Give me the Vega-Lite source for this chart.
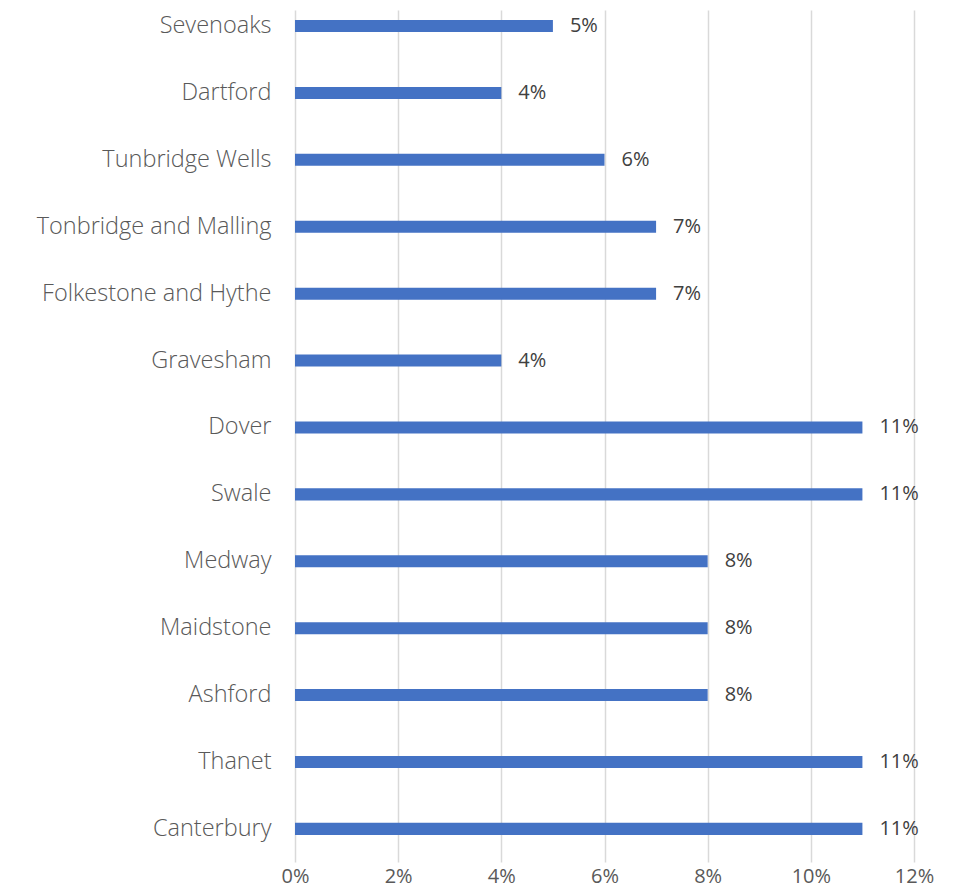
{
  "$schema": "https://vega.github.io/schema/vega-lite/v6.json",
  "autosize": {"type": "none"},
  "padding": {"left": 295, "top": 10, "right": 43, "bottom": 26},
  "width": 619,
  "height": 852,
  "background": "white",
  "config": {"view": {"stroke": null}},
  "data": {
    "values": [
      {"district": "Sevenoaks", "share": 0.05},
      {"district": "Dartford", "share": 0.04},
      {"district": "Tunbridge Wells", "share": 0.06},
      {"district": "Tonbridge and Malling", "share": 0.07},
      {"district": "Folkestone and Hythe", "share": 0.07},
      {"district": "Gravesham", "share": 0.04},
      {"district": "Dover", "share": 0.11},
      {"district": "Swale", "share": 0.11},
      {"district": "Medway", "share": 0.08},
      {"district": "Maidstone", "share": 0.08},
      {"district": "Ashford", "share": 0.08},
      {"district": "Thanet", "share": 0.11},
      {"district": "Canterbury", "share": 0.11}
    ]
  },
  "encoding": {
    "y": {
      "field": "district",
      "type": "nominal",
      "sort": null,
      "scale": {"paddingInner": 0.82, "paddingOuter": 0.2775, "align": 0.27},
      "axis": {
        "title": null,
        "ticks": false,
        "domain": false,
        "labelFont": "Open Sans",
        "labelFontWeight": 300,
        "labelFontSize": 23.5,
        "labelColor": "#595959",
        "labelPadding": 24,
        "labelLimit": 400
      }
    },
    "x": {
      "field": "share",
      "type": "quantitative",
      "scale": {"domain": [0, 0.12]},
      "axis": {
        "title": null,
        "values": [0, 0.02, 0.04, 0.06, 0.08, 0.1, 0.12],
        "format": ".0%",
        "ticks": false,
        "domain": false,
        "grid": true,
        "gridColor": "#D9D9D9",
        "gridWidth": 1.5,
        "labelFont": "Open Sans",
        "labelFontSize": 20,
        "labelColor": "#595959",
        "labelPadding": 4,
        "labelFlush": false
      }
    }
  },
  "layer": [
    {"mark": {"type": "bar", "color": "#4472C4"}},
    {
      "mark": {"type": "text", "align": "left", "baseline": "middle", "dx": 17, "font": "Open Sans", "fontSize": 20, "color": "#404040"},
      "encoding": {"text": {"field": "share", "type": "quantitative", "format": ".0%"}}
    }
  ]
}
